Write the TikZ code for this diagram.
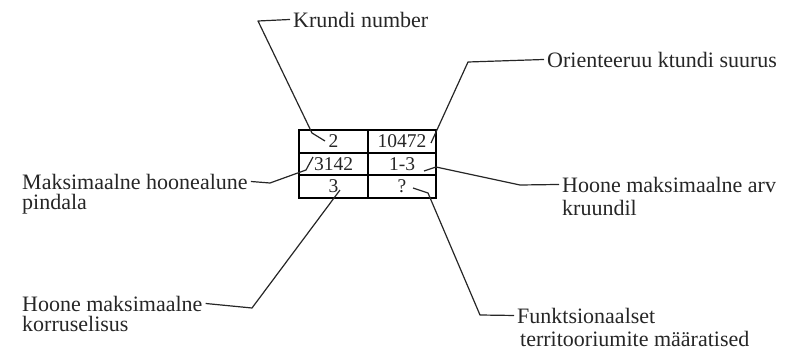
\documentclass[tikz,border=0pt]{standalone}
\usepackage{fontspec}
\setmainfont{Liberation Serif}
\begin{document}
\begin{tikzpicture}[x=1pt,y=-1pt,
  lbl/.style={font=\fontsize{22}{22}\selectfont, inner xsep=3pt, inner ysep=0pt, anchor=base west, text=black!85},
  cell/.style={draw, line width=2pt, minimum width=68.5pt, minimum height=22.6pt, inner sep=0pt, font=\fontsize{19.5}{19.5}\selectfont, text=black!85},
  lead/.style={line width=1.2pt, black!85, line join=round}]
\useasboundingbox (0,0) rectangle (790,351);
% table
\node[cell] (c11) at (333.5,141.5) {2};
\node[cell] (c12) at (402,141.5) {10472};
\node[cell] (c21) at (333.5,164) {3142};
\node[cell] (c22) at (402,164) {1-3};
\node[cell] (c31) at (333.5,186.5) {3};
\node[cell] (c32) at (402,186.5) {?};
% labels
\node[lbl] (kn) at (290,27) {Krundi number};
\node[lbl] (ok) at (544,67) {Orienteeruu ktundi suurus};
\node[lbl] (mh1) at (19,189) {Maksimaalne hoonealune};
\node[lbl] (mh2) at (19,209) {pindala};
\node[lbl] (ha1) at (559,192) {Hoone maksimaalne arv};
\node[lbl] (ha2) at (559,215) {kruundil};
\node[lbl] (hk1) at (19,311) {Hoone maksimaalne};
\node[lbl] (hk2) at (19,331) {korruselisus};
\node[lbl] (fu1) at (514,323) {Funktsionaalset};
\node[lbl] (fu2) at (517,346) {territooriumite määratised};
% leader bends
\coordinate (k1) at (258,21);
\coordinate (k2) at (312,133);
\coordinate (k3) at (325,141);
\coordinate (o1) at (468,62);
\coordinate (o2) at (431,143);
\coordinate (m1) at (270,183);
\coordinate (m2) at (306,170);
\coordinate (m3) at (313,157);
\coordinate (a1) at (520,185);
\coordinate (a2) at (436,167);
\coordinate (a3) at (424,171);
\coordinate (h1) at (252,308);
\coordinate (h2) at (340,190);
\coordinate (f1) at (480,315);
\coordinate (f2) at (428,193);
\coordinate (f3) at (413,188);
% leaders
\draw[lead] (kn.west) -- (k1) -- (k2) -- (k3);
\draw[lead] (ok.west) -- (o1) -- (o2);
\draw[lead] (mh1.east) -- (m1) -- (m2) -- (m3);
\draw[lead] (ha1.west) -- (a1) -- (a2) -- (a3);
\draw[lead] (hk1.east) -- (h1) -- (h2);
\draw[lead] (fu1.west) -- (f1) -- (f2) -- (f3);
\end{tikzpicture}
\end{document}
